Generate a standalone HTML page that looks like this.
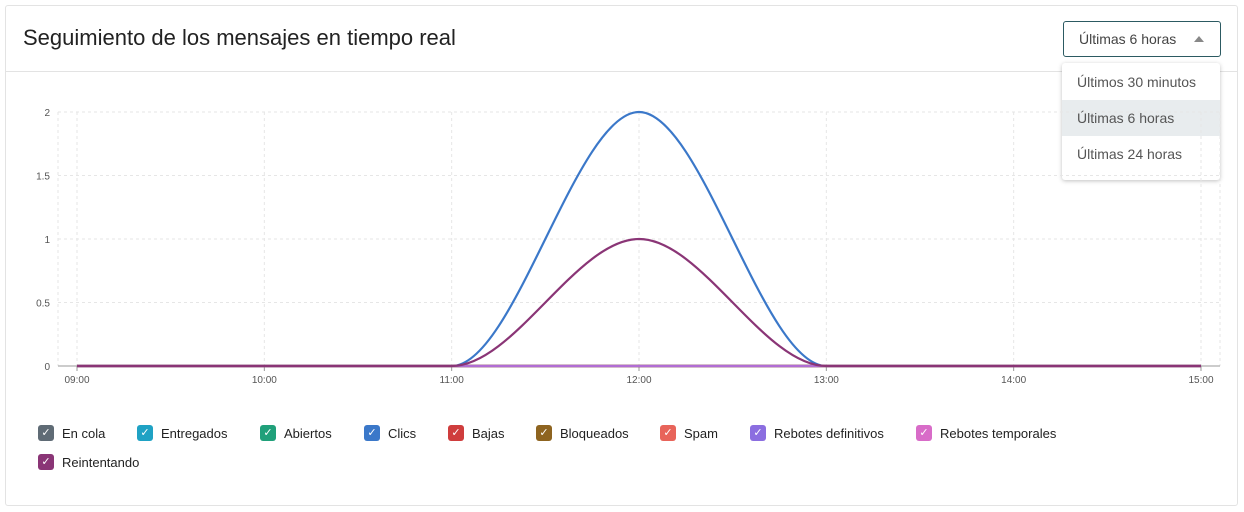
<!DOCTYPE html>
<html><head><meta charset="utf-8"><style>
body{margin:0;background:#fff;font-family:"Liberation Sans",Roboto,sans-serif;}
.card{position:absolute;left:5px;top:5px;width:1231px;height:499px;border:1px solid #e3e3e3;border-radius:3px;background:#fff}
.hdr{position:absolute;left:0;top:0;width:1231px;height:65px;border-bottom:1px solid #e3e3e3}
.title{position:absolute;left:17px;top:19px;font-size:22px;color:#222}
.sel{position:absolute;left:1057px;top:15px;width:156px;height:34px;border:1px solid #2c5a62;border-radius:3px;font-size:14px;color:#444}
.sel span{position:absolute;left:15px;top:9px}
.sel i{position:absolute;right:16px;top:14px;border-left:5px solid transparent;border-right:5px solid transparent;border-bottom:6px solid #888}
.menu{position:absolute;left:1062px;top:63px;width:158px;height:117px;background:#fff;box-shadow:0 1px 4px rgba(0,0,0,.25);border-radius:3px;font-size:14px;color:#555}
.menu div{position:absolute;left:0;width:158px;height:36px;line-height:36px;padding-left:15px;box-sizing:border-box}
.leg{position:absolute;font-size:13px;color:#222;display:flex;align-items:center}
.leg b{display:inline-block;width:16px;height:16px;border-radius:3px;margin-right:8px;color:#fff;font-size:11px;text-align:center;line-height:16px;font-weight:normal}
</style></head><body>
<div class="card">
<div class="hdr"><div class="title">Seguimiento de los mensajes en tiempo real</div>
<div class="sel"><span>Últimas 6 horas</span><i></i></div></div>
</div>
<div class="menu">
<div style="top:1px">Últimos 30 minutos</div>
<div style="top:37px;background:#e8ecee">Últimas 6 horas</div>
<div style="top:73px">Últimas 24 horas</div>
</div>
<svg id="chart" width="1244" height="512" style="position:absolute;left:0;top:0;pointer-events:none"></svg>
<div id="legend"></div>
<script>
const categories=["09:00","10:00","11:00","12:00","13:00","14:00","15:00"];
const yTicks=[0,0.5,1,1.5,2];
const seriesNames=["En cola","Entregados","Abiertos","Clics","Bajas","Bloqueados","Spam","Rebotes definitivos","Rebotes temporales","Reintentando"];
const seriesColors=["#5f6b75","#1fa2c4","#20a07a","#3b78c9","#cf3d3d","#8e6420","#e8645a","#8b6ee0","#d86cc8","#8a3576"];
const enCola=[0,0,0,0,0,0,0];
const entregados=[0,0,0,0,0,0,0];
const abiertos=[0,0,0,0,0,0,0];
const clics=[0,0,0,2,0,0,0];
const bajas=[0,0,0,0,0,0,0];
const bloqueados=[0,0,0,0,0,0,0];
const spam=[0,0,0,0,0,0,0];
const rebotesDef=[0,0,0,0,0,0,0];
const rebotesTemp=[0,0,0,0,0,0,0];
const reintentando=[0,0,0,1,0,0,0];
const seriesValues=[enCola,entregados,abiertos,clics,bajas,bloqueados,spam,rebotesDef,rebotesTemp,reintentando];
const NS="http://www.w3.org/2000/svg",svg=document.getElementById('chart');
const x0=77,x1=1201,y0=366,y1=112,yMax=2;
const xs=i=>x0+(x1-x0)*i/(categories.length-1);
const ys=v=>y0-(y0-y1)*v/yMax;
function mk(t,a){const e=document.createElementNS(NS,t);for(const k in a)e.setAttribute(k,a[k]);svg.appendChild(e);return e;}
yTicks.forEach(t=>{const g=mk('line',{x1:58,x2:1220,y1:ys(t),y2:ys(t),stroke:'#e6e6e6','stroke-dasharray':'3,3'});

const l=mk('text',{x:50,y:ys(t)+4,'text-anchor':'end','font-size':10,fill:'#555','font-family':'Liberation Sans'});l.textContent=t;
});
[58].concat(categories.map((c,i)=>xs(i))).concat([1220]).forEach(x=>{const g=mk('line',{x1:x,x2:x,y1:y1,y2:y0,stroke:'#e6e6e6','stroke-dasharray':'3,3'});
});
const ax=mk('line',{x1:58,x2:1220,y1:y0,y2:y0,stroke:'#999'});
categories.forEach((c,i)=>{const tk=mk('line',{x1:xs(i),x2:xs(i),y1:y0,y2:y0+5,stroke:'#999'});

const l=mk('text',{x:xs(i),y:y0+17,'text-anchor':'middle','font-size':10,fill:'#555','font-family':'Liberation Sans'});l.textContent=c;
});
function pathFor(v){const n=v.length,px=v.map((d,i)=>xs(i)),py=v.map(d=>ys(d));const m=[];
for(let i=0;i<n;i++){const sL=i>0?(py[i]-py[i-1])/(px[i]-px[i-1]):null,sR=i<n-1?(py[i+1]-py[i])/(px[i+1]-px[i]):null;
if(sL===null)m.push(sR);else if(sR===null)m.push(sL);else if(sL*sR<=0)m.push(0);else m.push(2/(1/sL+1/sR));}
let d='M'+px[0]+','+py[0];for(let i=0;i<n-1;i++){const h=(px[i+1]-px[i])/3;
d+=' C'+(px[i]+h)+','+(py[i]+m[i]*h)+' '+(px[i+1]-h)+','+(py[i+1]-m[i+1]*h)+' '+px[i+1]+','+py[i+1];}return d;}
seriesValues.forEach((v,k)=>{const p=mk('path',{d:pathFor(v),fill:'none',stroke:seriesColors[k],'stroke-width':2.2,'stroke-opacity':k===8?0.5:1});
});
const lg=document.getElementById('legend');
const pos=[[38,425],[137,425],[260,425],[364,425],[448,425],[536,425],[660,425],[750,425],[916,425],[38,454]];
seriesNames.forEach((n,k)=>{const d=document.createElement('div');d.className='leg';d.style.left=pos[k][0]+'px';d.style.top=pos[k][1]+'px';
d.innerHTML='<b style="background:'+seriesColors[k]+'">✓</b>'+n;


lg.appendChild(d);});
</script>
</body></html>
